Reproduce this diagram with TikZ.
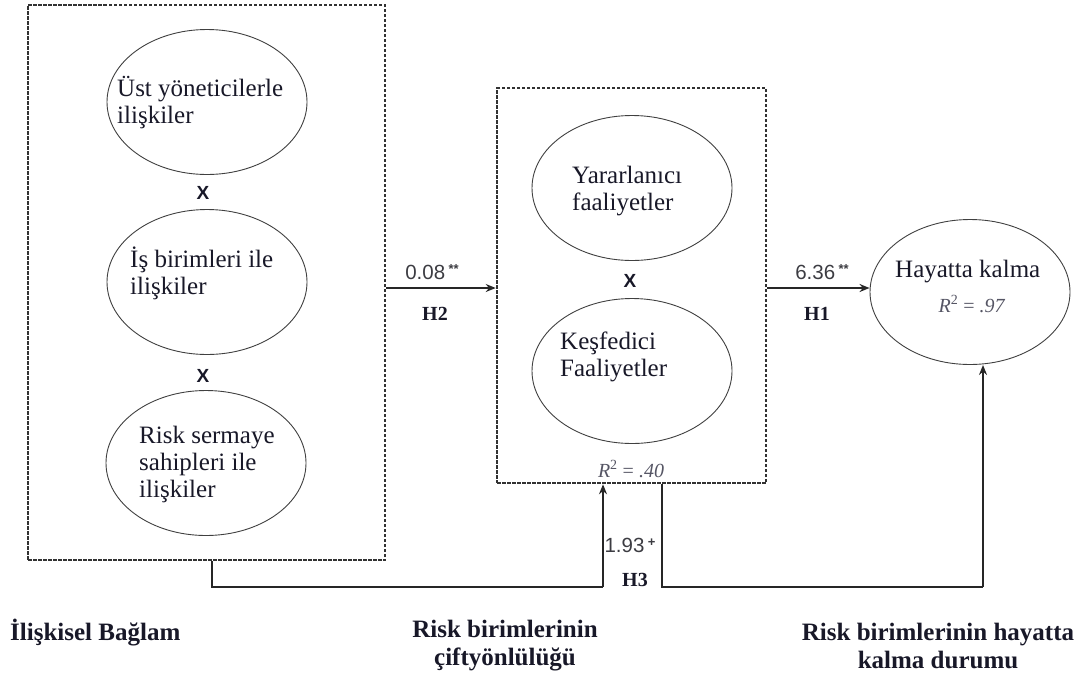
\documentclass[tikz,border=0pt]{standalone}
\usepackage{fontspec}
\setmainfont{Liberation Serif}
\newfontfamily\numfont{Liberation Sans}
\usetikzlibrary{arrows.meta,shapes.geometric}
\definecolor{ink}{RGB}{24,24,40}
\definecolor{numgray}{RGB}{60,60,66}
\definecolor{rgray}{RGB}{85,85,100}
\definecolor{framegray}{RGB}{50,50,50}
\newcommand{\sig}[1]{\raisebox{0.55ex}{\fontsize{13}{13}\selectfont\bfseries #1}}
\begin{document}
\begin{tikzpicture}[x=1pt,y=-1pt,
  construct/.style={draw=black!75,line width=0.9pt,ellipse,minimum width=200pt,minimum height=145pt,inner sep=0pt},
  groupbox/.style={draw=framegray,line width=2.5pt,dash pattern=on 3.5pt off 1.5pt,inner sep=0pt},
  etext/.style={text=ink,font=\fontsize{25}{27}\selectfont,align=left,anchor=base west,inner sep=0pt},
  coef/.style={text=numgray,font=\numfont\fontsize{20.5}{22}\selectfont,inner sep=0pt},
  hyp/.style={text=ink,font=\bfseries\fontsize{20}{22}\selectfont,inner sep=0pt},
  rsq/.style={text=rgray,font=\fontsize{20}{22}\selectfont,inner sep=0pt},
  times/.style={text=ink,font=\numfont\bfseries\fontsize{19}{20}\selectfont,inner sep=0pt},
  caption/.style={text=ink,font=\bfseries\fontsize{25}{28}\selectfont,align=center,inner sep=0pt},
  path/.style={draw=black!85,line width=2.2pt,-{Stealth[length=10pt,width=8pt]}},
  link/.style={draw=black!85,line width=1.3pt}]
\useasboundingbox (0,0) rectangle (1076,673);

% relational context group (multi-line labels are placed by their last baseline)
\node[groupbox,minimum width=357pt,minimum height=555pt] (ctx) at (206.5,282.5) {};
\node[construct] (ust) at (207,102) {};
\node[construct] (is) at (207,282) {};
\node[construct] (rsk) at (206,463) {};
\node[etext] (ustT) at (117,123) {Üst yöneticilerle\\ilişkiler};
\node[etext] (isT) at (130,294) {İş birimleri ile\\ilişkiler};
\node[etext] (rskT) at (139,497) {Risk sermaye\\sahipleri ile\\ilişkiler};
\node[times] (x1) at (203,193) {X};
\node[times] (x2) at (203,376) {X};

% ambidexterity group
\node[groupbox,minimum width=269pt,minimum height=395pt] (amb) at (631.5,285.5) {};
\node[construct] (yar) at (632,188) {};
\node[construct] (kes) at (632,371) {};
\node[etext] (yarT) at (572,210) {Yararlanıcı\\faaliyetler};
\node[etext] (kesT) at (560,376) {Keşfedici\\Faaliyetler};
\node[times] (x3) at (630,281) {X};
\node[rsq] (r40) at (631,469) {\textit{R}\textsuperscript{2} = \textit{.40}};

% survival
\node[construct] (hay) at (970,292) {};
\node[etext] (hayT) at (895,277) {Hayatta kalma};
\node[rsq,anchor=base] (r97) at (972,312) {\textit{R}\textsuperscript{2} = \textit{.97}};

% structural paths
\coordinate (row) at (0,288);
\draw[path] (ctx.east |- row) -- (amb.west |- row);
\draw[path] (amb.east |- row) -- (hay.west |- row);
\node[coef] (c2) at (432,272) {0.08\,\sig{**}};
\node[hyp] (h2) at (435,314) {H2};
\node[coef] (c1) at (822,272) {6.36\,\sig{**}};
\node[hyp] (h1) at (817,314) {H1};

% moderation paths along the bottom
\coordinate (b1) at (212,587);
\coordinate (b2) at (603,587);
\coordinate (b3) at (662,587);
\coordinate (b4) at (983,587);
\draw[link] (ctx.south -| b1) -- (b1) -- (b2);
\draw[path] (b2) -- (amb.south -| b2);
\draw[link] (amb.south -| b3) -- (b3) -- (b4);
\draw[path] (b4) -- (hay.south -| b4);
\node[coef] (c3) at (630,545) {1.93\,\sig{+}};
\node[hyp] (h3) at (635,580) {H3};

% group captions
\node[caption,anchor=west] (capA) at (10,633) {İlişkisel Bağlam};
\node[caption] (capB) at (505,646) {Risk birimlerinin\\çiftyönlülüğü};
\node[caption] (capC) at (938,646) {Risk birimlerinin hayatta\\kalma durumu};
\end{tikzpicture}
\end{document}
